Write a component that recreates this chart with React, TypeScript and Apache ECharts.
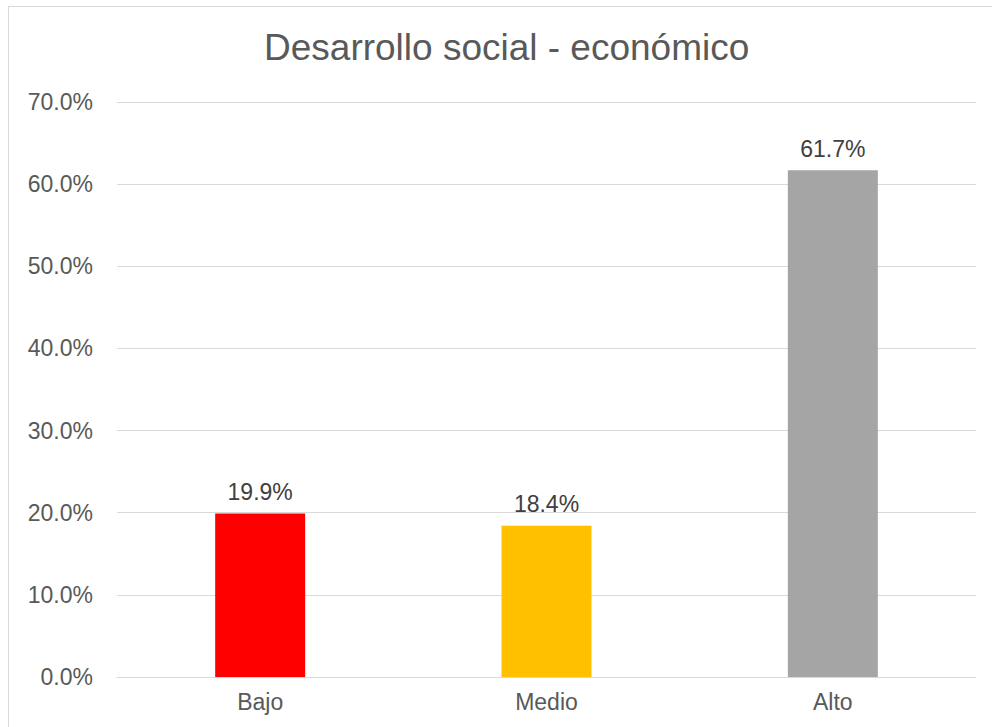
import React, { useEffect, useRef } from "react";
import * as echarts from "echarts";

const categories = ["Bajo", "Medio", "Alto"];
const values = [19.9, 18.4, 61.7];
const barColors = ["#FF0000", "#FFC000", "#A5A5A5"];
const titleText = "Desarrollo social - económico";

const FONT = "'Liberation Sans', Arial, sans-serif";

export default function App() {
  const ref = useRef<HTMLDivElement>(null);
  useEffect(() => {
    if (!ref.current) return;
    const chart = echarts.init(ref.current, null, { renderer: "svg" });
    chart.setOption({
      animation: false,
      backgroundColor: "#ffffff",
      title: {
        text: titleText,
        left: 255,
        top: 22,
        padding: 0,
        textStyle: { fontFamily: FONT, fontSize: 37, fontWeight: "normal", color: "#595959" },
      },
      grid: { left: 108, right: 16, top: 95, bottom: 50, containLabel: false },
      xAxis: {
        type: "category",
        data: categories,
        axisLine: { show: true, lineStyle: { color: "#D9D9D9", width: 1 } },
        axisTick: { show: false },
        axisLabel: { fontFamily: FONT, fontSize: 23, color: "#595959", margin: 13 },
      },
      yAxis: {
        type: "value",
        min: 0,
        max: 70,
        interval: 10,
        axisLine: { show: false },
        axisTick: { show: false },
        splitLine: { lineStyle: { color: "#D9D9D9", width: 1 } },
        axisLabel: {
          fontFamily: FONT,
          fontSize: 23,
          color: "#595959",
          margin: 24,
          formatter: (v: number) => v.toFixed(1) + "%",
        },
      },
      series: [
        {
          type: "bar",
          barWidth: 90,
          data: values.map((v, i) => ({ value: v, itemStyle: { color: barColors[i] } })),
          label: {
            show: true,
            position: "top",
            distance: 10,
            fontFamily: FONT,
            fontSize: 23,
            color: "#404040",
            formatter: (p: any) => Number(p.value).toFixed(1) + "%",
          },
        },
      ],
    });
    return () => chart.dispose();
  }, []);
  return (
    <div
      style={{
        position: "absolute",
        left: 8,
        top: 6,
        width: 983,
        height: 720,
        borderLeft: "1px solid #D9D9D9",
        borderTop: "1px solid #D9D9D9",
        background: "#fff",
      }}
    >
      <div ref={ref} style={{ width: 983, height: 720 }} />
    </div>
  );
}
